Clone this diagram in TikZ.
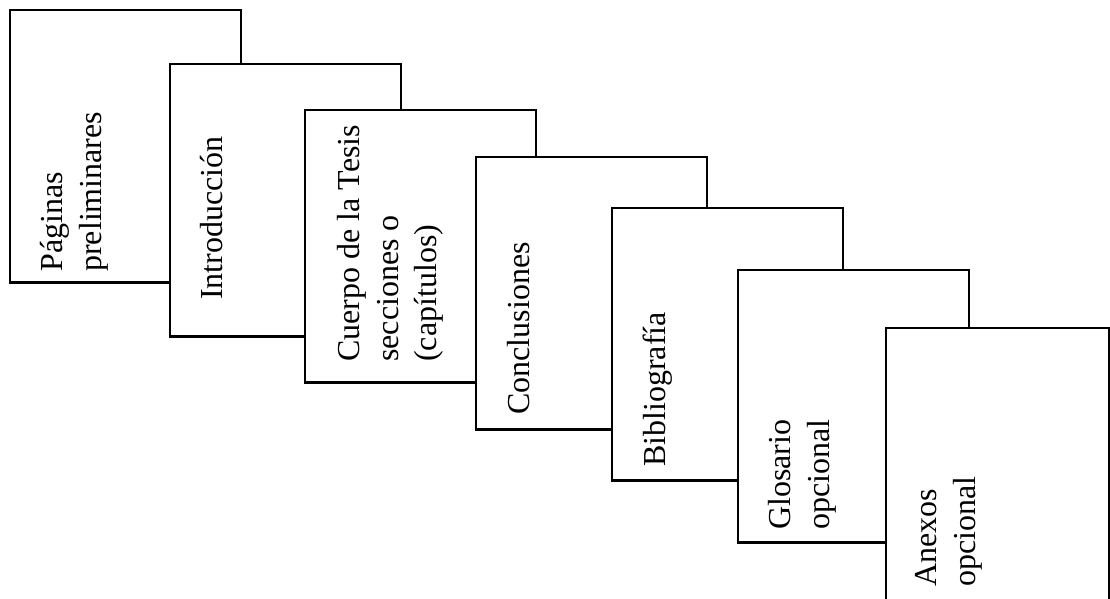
\documentclass[tikz,border=0pt]{standalone}
\usepackage{fontspec}
\setmainfont{Liberation Serif}
\begin{document}
\begin{tikzpicture}[x=0.75pt,y=0.75pt,
  box/.style={draw=black, fill=white, line width=1.6pt, anchor=north west,
    outer sep=0pt, inner sep=0pt, minimum width=173.25pt, minimum height=204.4pt},
  txt/.style={rotate=90, anchor=north west, inner sep=0pt, align=left,
    font=\fontsize{24}{29}\selectfont}]
\useasboundingbox (0,0) rectangle (1110,-599);
\clip (0,0) rectangle (1110,-599);
\node[box] (b1) at (10,-10) {};
\node[txt] (t1) at (40,-272) {Páginas\\preliminares};
\node[box] (b2) at (170,-64) {};
\node[txt] (t2) at (200,-300) {Introducción};
\node[box] (b3) at (305,-110) {};
\node[txt] (t3) at (337,-362) {Cuerpo de la Tesis\\secciones o\\(capítulos)};
\node[box] (b4) at (476,-157) {};
\node[txt] (t4) at (507,-415) {Conclusiones};
\node[box] (b5) at (612,-208) {};
\node[txt] (t5) at (643,-467) {Bibliografía};
\node[box] (b6) at (738,-270) {};
\node[txt] (t6) at (768,-530) {Glosario\\opcional};
\node[box, minimum width=167.25pt] (b7) at (886,-328) {};
\node[txt] (t7) at (915,-587) {Anexos\\opcional};
\end{tikzpicture}
\end{document}
